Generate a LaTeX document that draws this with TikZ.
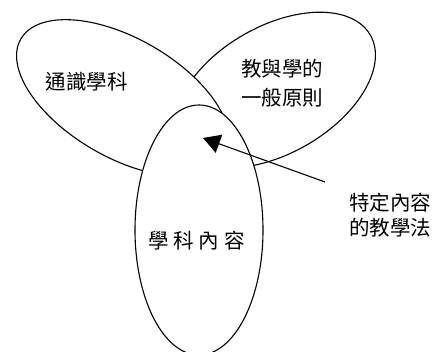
\documentclass[tikz,border=0pt]{standalone}
\usepackage{fontspec}
\newfontfamily\cjk{Noto Sans CJK TC}
\usetikzlibrary{shapes.geometric,arrows.meta}
\begin{document}
\begin{tikzpicture}[x=1pt,y=1pt,
  blob/.style={draw=black,fill=white,line width=1.1pt,ellipse,inner sep=0pt},
  label/.style={font=\cjk\fontsize{20.5}{29}\selectfont,inner sep=0pt,align=center,text=black},
  pointer/.style={line width=1.1pt,-{Triangle[length=17pt,width=19pt]}}]
\useasboundingbox (0,0) rectangle (438,352);
\node[blob,minimum width=220pt,minimum height=127pt,rotate=30] (right) at (275,262) {};
\node[blob,minimum width=236pt,minimum height=119pt,rotate=-30] (left) at (123,254) {};
\node[blob,minimum width=128pt,minimum height=250pt] (content) at (199,122) {};
\node[label] (gen) at (86.5,270) {通識學科};
\node[label] (teach) at (282,268.5) {教與學的\\一般原則};
\node[label] (subj) at (196.5,111) {學\hspace{5pt}科\hspace{5pt}內\hspace{5pt}容};
\node[label,font=\cjk\fontsize{20.5}{25}\selectfont] (pck) at (390,136.5) {特定內容\\的教學法};
\coordinate (tail) at (325,170);
\coordinate (tip) at (203,214);
\draw[pointer] (tail) -- (tip);
\end{tikzpicture}
\end{document}
